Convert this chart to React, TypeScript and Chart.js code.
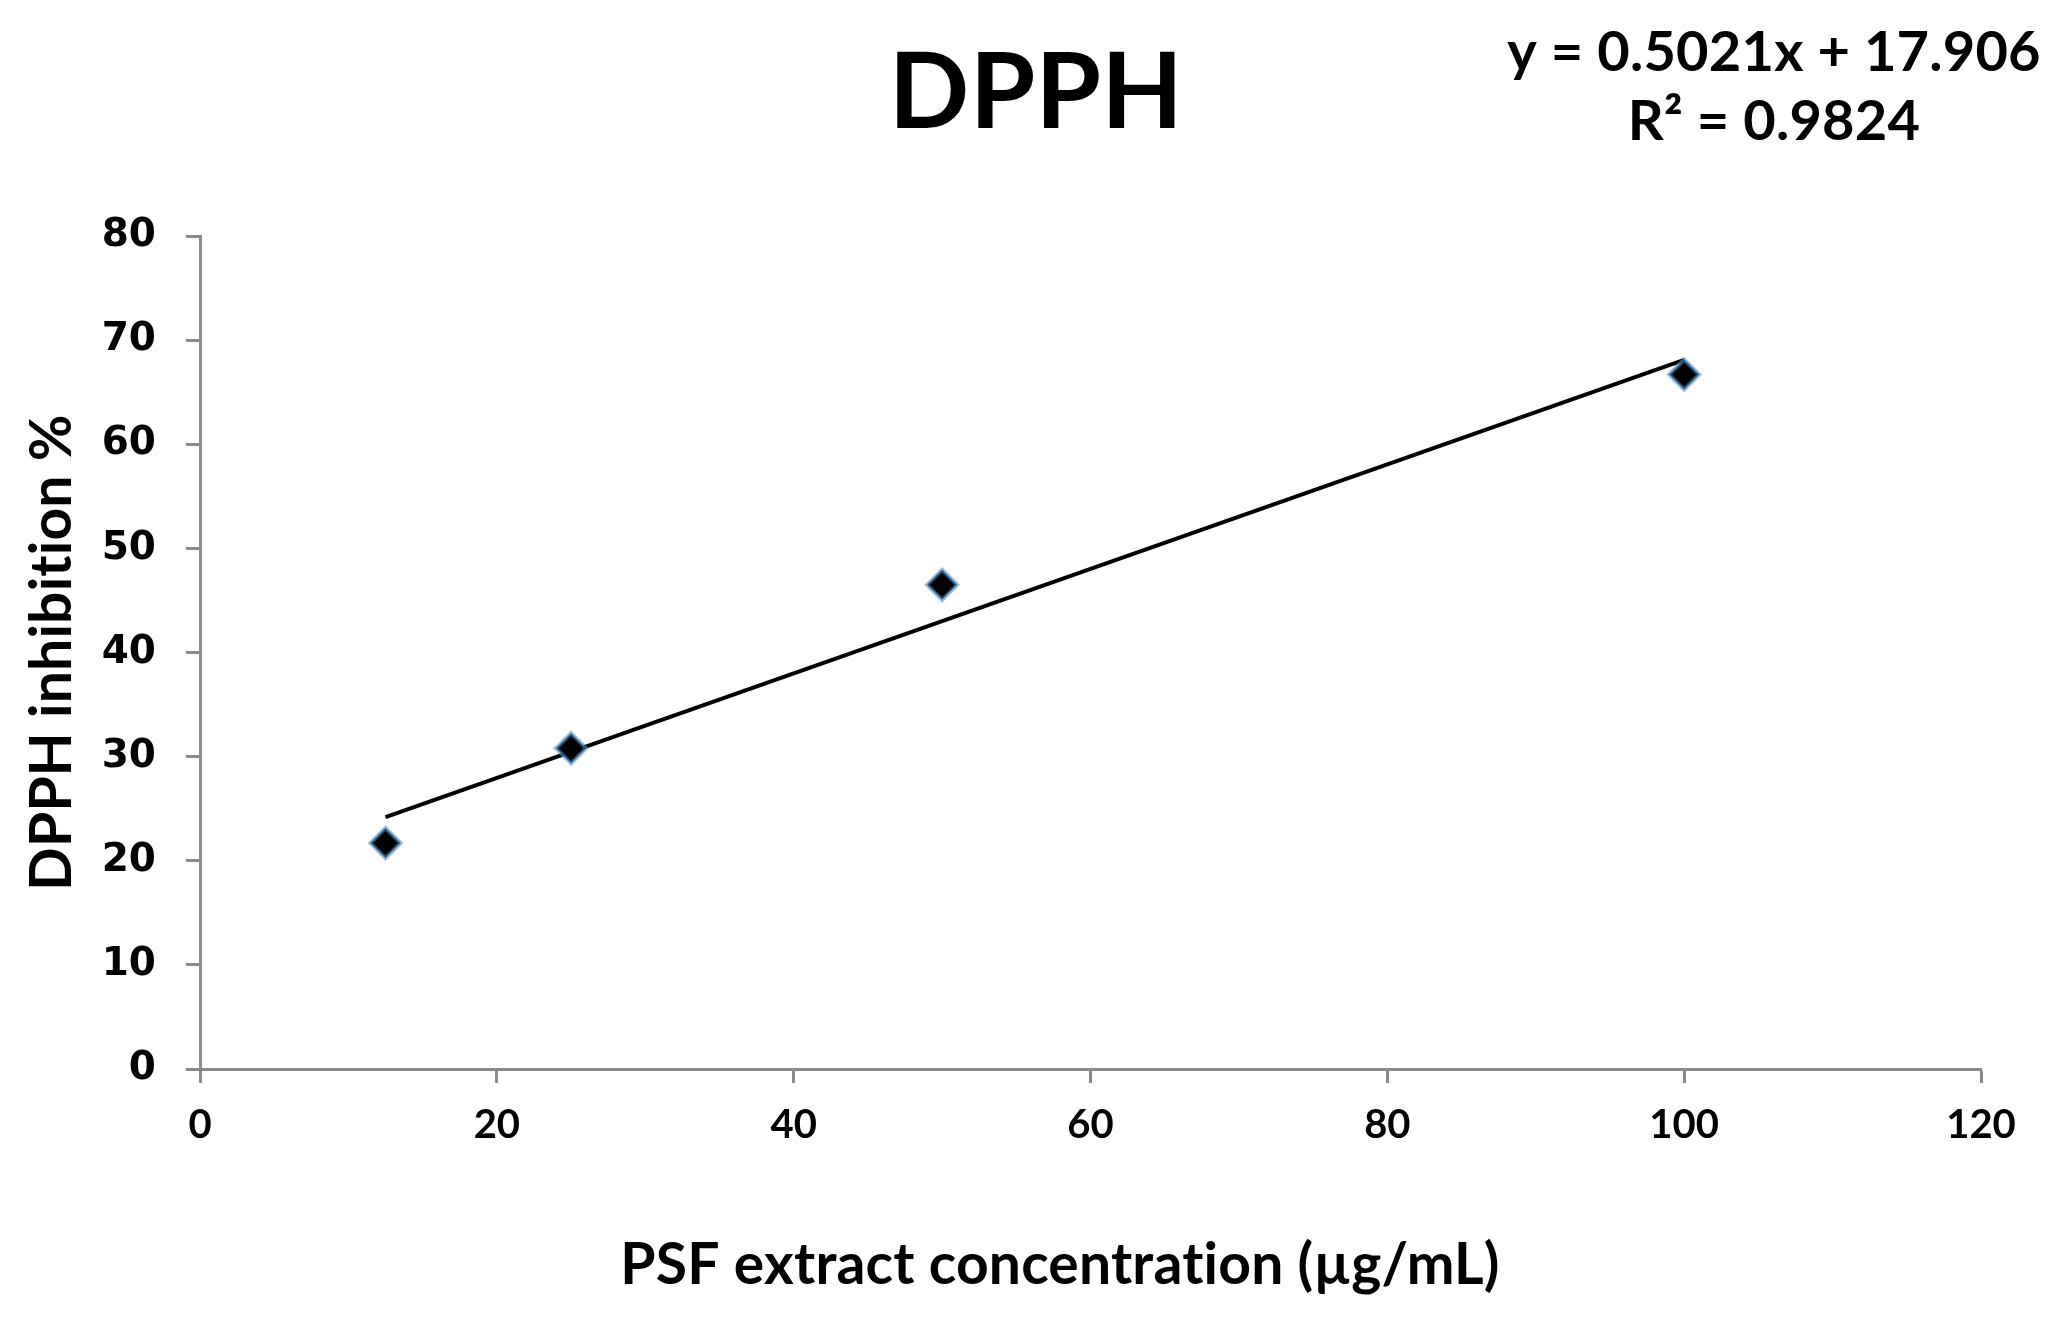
import React, { useEffect, useRef } from "react";
import { Chart, registerables } from "chart.js";

Chart.register(...registerables);

const concentrations = [12.5, 25, 50, 100];
const inhibition = [21.7, 30.8, 46.5, 66.7];
const trendX = [12.5, 100];
const trendY = [24.2, 68.1];
const xTicks = [0, 20, 40, 60, 80, 100, 120];
const yTicks = [0, 10, 20, 30, 40, 50, 60, 70, 80];
const titleText = "DPPH";
const equationLines = ["y = 0.5021x + 17.906", "R² = 0.9824"];
const xTitle = "PSF extract concentration (µg/mL)";
const yTitle = "DPPH inhibition %";

const W = 2064;
const H = 1317;

const textPlugin = {
  id: "texts",
  afterDraw(chart: any) {
    const ctx = chart.ctx;
    const area = chart.chartArea;
    ctx.save();
    ctx.fillStyle = "#000";
    ctx.textAlign = "center";
    ctx.textBaseline = "middle";
    try { (ctx as any).letterSpacing = "0.2px"; } catch (e) {}
    ctx.font = "bold 106px Lato";
    ctx.fillText(titleText, 1036, 94);
    ctx.font = "bold 56px Lato";
    ctx.fillText(equationLines[0], 1774, 53);
    ctx.fillText(equationLines[1], 1774, 122);
    ctx.font = "bold 57px Lato";
    ctx.fillText(xTitle, 1060, 1266);
    ctx.translate(53, (area.top + area.bottom) / 2);
    ctx.rotate(-Math.PI / 2);
    ctx.fillText(yTitle, 0, 0);
    ctx.restore();
  },
};

export default function App() {
  const ref = useRef<HTMLCanvasElement>(null);
  useEffect(() => {
    if (!ref.current) return;
    const points = concentrations.map((x, i) => ({ x, y: inhibition[i] }));
    const trend = trendX.map((x, i) => ({ x, y: trendY[i] }));
    const axisColor = "#8a8a8a";
    const chart = new Chart(ref.current, {
      type: "scatter",
      data: {
        datasets: [
          {
            type: "scatter",
            data: points,
            pointStyle: "rectRot",
            pointRadius: 15,
            backgroundColor: "#000",
            borderColor: "rgba(70,140,200,0.6)",
            borderWidth: 4,
            order: 0,
          } as any,
          {
            type: "line",
            data: trend,
            borderColor: "#000",
            borderWidth: 4,
            pointRadius: 0,
            fill: false,
            order: 1,
          } as any,
        ],
      },
      options: {
        responsive: false,
        animation: false,
        events: [],
        layout: { padding: { left: 0, top: 236, right: 83, bottom: 128 } },
        plugins: {
          legend: { display: false },
          tooltip: { enabled: false },
          title: { display: false },
        },
        scales: {
          x: {
            type: "linear",
            min: 0,
            max: 120,
            afterBuildTicks: (s: any) => {
              s.ticks = xTicks.map((v) => ({ value: v }));
            },
            afterFit: (s: any) => {
              s.height = 120;
            },
            border: { color: axisColor, width: 3 },
            grid: {
              drawOnChartArea: false,
              tickLength: 14,
              tickColor: axisColor,
              tickWidth: 3,
            },
            ticks: {
              color: "#000",
              font: { family: "Lato", weight: "bold", size: 40 },
              padding: 18,
              maxRotation: 0,
            },
          },
          y: {
            type: "linear",
            min: 0,
            max: 80,
            afterBuildTicks: (s: any) => {
              s.ticks = yTicks.map((v) => ({ value: v }));
            },
            afterFit: (s: any) => {
              s.width = 200;
            },
            border: { color: axisColor, width: 3 },
            grid: {
              drawOnChartArea: false,
              tickLength: 14,
              tickColor: axisColor,
              tickWidth: 3,
            },
            ticks: {
              color: "#000",
              font: { family: "DejaVu Sans", weight: "bold", size: 39 },
              padding: 30,
            },
          },
        },
      } as any,
      plugins: [textPlugin],
    });
    return () => chart.destroy();
  }, []);
  return (
    <div style={{ position: "absolute", left: 0, top: 0, width: W, height: H, background: "#fff" }}>
      <canvas ref={ref} width={W} height={H} style={{ display: "block", width: W, height: H }} />
    </div>
  );
}
